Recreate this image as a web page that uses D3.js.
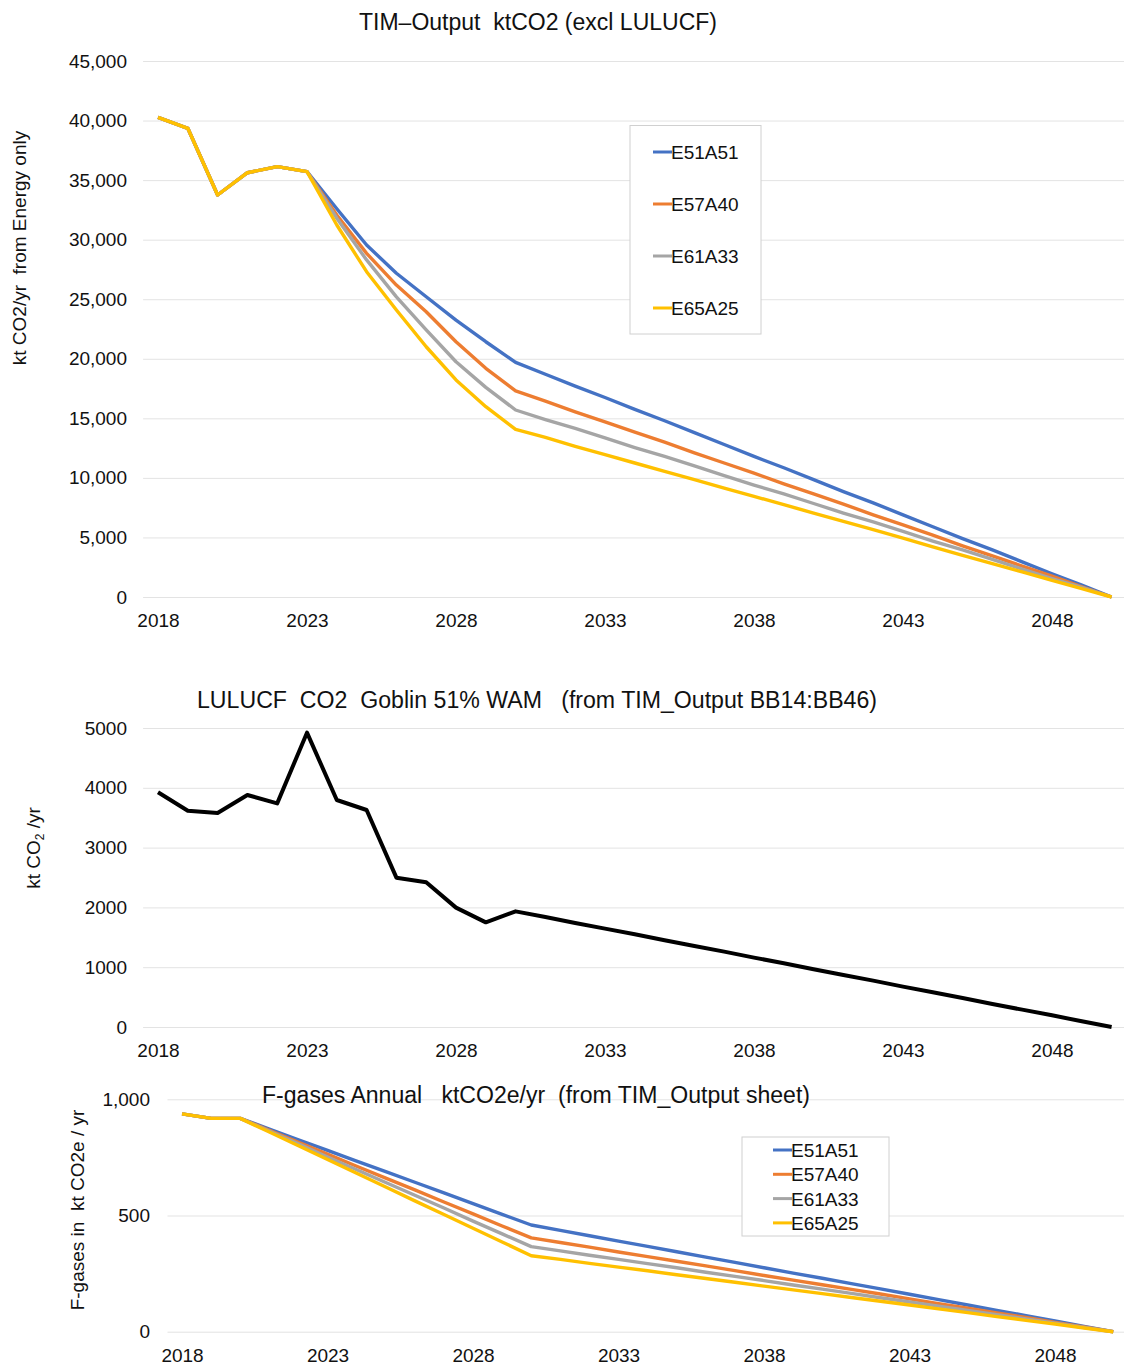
<!DOCTYPE html>
<html><head><meta charset="utf-8">
<script src="https://cdn.jsdelivr.net/npm/d3@7"></script>
<style>body{margin:0;background:#fff}svg{display:block}text{font-family:Helvetica,Arial,"Liberation Sans",sans-serif;fill:#111;white-space:pre}</style>
</head><body>
<script>
const years = d3.range(2018, 2051);
const tickYears = [2018, 2023, 2028, 2033, 2038, 2043, 2048];
const seriesNames = ["E51A51", "E57A40", "E61A33", "E65A25"];
const seriesColors = ["#4472C4", "#ED7D31", "#A5A5A5", "#FFC000"];

// Chart 1: TIM-Output ktCO2 (excl LULUCF)
const energyE51A51 = [40270,39350,33750,35620,36130,35710,32600,29550,27180,25210,23250,21430,19700,18700,17700,16750,15750,14800,13800,12800,11800,10850,9850,8850,7900,6900,5900,4900,3950,2950,1950,1000,0];
const energyE57A40 = [40270,39350,33750,35620,36130,35710,32070,28850,26190,23950,21430,19200,17300,16450,15550,14700,13850,13000,12100,11250,10400,9500,8650,7800,6900,6050,5200,4300,3450,2600,1750,850,0];
const energyE61A33 = [40270,39350,33750,35620,36130,35710,31800,28300,25200,22420,19750,17600,15700,14900,14150,13350,12550,11800,11000,10200,9400,8650,7850,7050,6300,5500,4700,3950,3150,2350,1550,800,0];
const energyE65A25 = [40270,39350,33750,35620,36130,35710,31230,27310,24100,21010,18220,15980,14080,13400,12650,11950,11250,10550,9850,9150,8450,7750,7050,6350,5650,4950,4200,3500,2800,2100,1400,700,0];
const energyTicks = [0,5000,10000,15000,20000,25000,30000,35000,40000,45000];

// Chart 2: LULUCF CO2
const lulucf = [3925,3617,3579,3880,3740,4922,3796,3629,2497,2420,1996,1750,1934,1840,1740,1645,1550,1450,1355,1260,1160,1065,965,870,775,675,580,485,385,290,195,95,0];
const lulucfTicks = [0,1000,2000,3000,4000,5000];

// Chart 3: F-gases
const fgasE51A51 = [937,918,918,872,826,780,734,689,643,597,551,505,459,436,413,390,367,344,321,298,275,252,230,207,184,161,138,115,92,69,46,23,0];
const fgasE57A40 = [937,918,918,867,815,764,712,661,610,558,507,455,404,384,364,343,323,303,283,263,242,222,202,182,162,141,121,101,81,61,40,20,0];
const fgasE61A33 = [937,918,918,863,808,752,697,642,587,532,476,421,366,348,329,311,293,275,256,238,220,201,183,165,146,128,110,92,73,55,37,18,0];
const fgasE65A25 = [937,918,918,859,800,741,682,623,563,504,445,386,327,311,294,278,262,245,229,213,196,180,164,147,131,115,98,82,65,49,33,16,0];
const fgasTicks = [0,500,1000];

const W = 1124, H = 1365;
const FONT = "Helvetica,Arial,'Liberation Sans',sans-serif";
const svg = d3.select("body").append("svg").attr("width", W).attr("height", H);

function panel(cfg) {
  const x = d3.scalePoint().domain(years).range([cfg.left, cfg.right]).padding(0.5);
  const y = d3.scaleLinear().domain([0, cfg.max]).range([cfg.bottom, cfg.top]);
  const g = svg.append("g");
  const ax = d3.axisLeft(y).tickValues(cfg.ticks).tickSize(-(cfg.right - cfg.left)).tickFormat(cfg.fmt);
  const ga = g.append("g").attr("transform", `translate(${cfg.left},0)`).call(ax);
  ga.select(".domain").remove();
  ga.selectAll(".tick line").attr("stroke", "#e3e3e3").attr("stroke-width", 1);
  ga.selectAll(".tick text").attr("font-size", 19).attr("fill", "#111").attr("x", cfg.labelX - cfg.left)
    .style("font-family", FONT);
  const xa = d3.axisBottom(x).tickValues(tickYears).tickSize(0).tickPadding(cfg.xPad);
  const gx = g.append("g").attr("transform", `translate(0,${cfg.bottom})`).call(xa);
  gx.select(".domain").remove();
  gx.selectAll(".tick text").attr("font-size", 19).attr("fill", "#111").style("font-family", FONT);
  const line = d3.line().x((d, i) => x(years[i])).y(d => y(d)).curve(d3.curveLinear);
  cfg.series.forEach((s, i) => {
    g.append("path").datum(s).attr("d", line).attr("fill", "none")
      .attr("stroke", cfg.colors[i]).attr("stroke-width", cfg.sw).attr("stroke-linejoin", "round");
  });
  return {x, y};
}

function title(txt, cx, y, len) {
  svg.append("text").attr("x", cx).attr("y", y).attr("text-anchor", "middle").attr("font-size", 23)
    .attr("textLength", len).attr("lengthAdjust", "spacingAndGlyphs").text(txt);
}

// Chart 1
panel({left:143.1, right:1126.5, top:61, bottom:597, max:45000, ticks:energyTicks, fmt:d3.format(","), labelX:127, xPad:16.3,
  series:[energyE51A51, energyE57A40, energyE61A33, energyE65A25], colors:seriesColors, sw:3.4});
title("TIM–Output  ktCO2 (excl LULUCF)", 538, 30, 358);
svg.append("text").attr("transform", "translate(26,248) rotate(-90)").attr("text-anchor", "middle").attr("font-size", 19).text("kt CO2/yr  from Energy only");
const lg1 = svg.append("g");
lg1.append("rect").attr("x", 630).attr("y", 125.5).attr("width", 131).attr("height", 208.5).attr("fill", "#fff").attr("stroke", "#d0d0d0");
seriesNames.forEach((n, i) => {
  const yy = 152 + i * 52;
  lg1.append("line").attr("x1", 653).attr("x2", 672).attr("y1", yy).attr("y2", yy).attr("stroke", seriesColors[i]).attr("stroke-width", 3);
  lg1.append("text").attr("x", 671).attr("y", yy + 7).attr("font-size", 19).text(n);
});

// Chart 2
panel({left:143.1, right:1126.5, top:728, bottom:1027, max:5000, ticks:lulucfTicks, fmt:d3.format("d"), labelX:127, xPad:16.3,
  series:[lulucf], colors:["#000"], sw:4});
title("LULUCF  CO2  Goblin 51% WAM   (from TIM_Output BB14:BB46)", 537, 708, 680);
const yl2 = svg.append("text").attr("transform", "translate(40,848) rotate(-90)").attr("text-anchor", "middle").attr("font-size", 19);
yl2.append("tspan").text("kt CO");
yl2.append("tspan").attr("font-size", 12).attr("dy", 4).text("2");
yl2.append("tspan").attr("dy", -4).text(" /yr");

// Chart 3
panel({left:167.5, right:1127.8, top:1099.3, bottom:1331.7, max:1000, ticks:fgasTicks, fmt:d3.format(","), labelX:150, xPad:16.6,
  series:[fgasE51A51, fgasE57A40, fgasE61A33, fgasE65A25], colors:seriesColors, sw:3.4});
title("F-gases Annual   ktCO2e/yr  (from TIM_Output sheet)", 536, 1103, 548);
svg.append("text").attr("transform", "translate(84,1210) rotate(-90)").attr("text-anchor", "middle").attr("font-size", 19)
  .text("F-gases in  kt CO2e / yr");
const lg3 = svg.append("g");
lg3.append("rect").attr("x", 742).attr("y", 1137).attr("width", 147).attr("height", 99).attr("fill", "#fff").attr("stroke", "#d0d0d0");
seriesNames.forEach((n, i) => {
  const yy = 1150 + i * 24.3;
  lg3.append("line").attr("x1", 773).attr("x2", 792).attr("y1", yy).attr("y2", yy).attr("stroke", seriesColors[i]).attr("stroke-width", 3);
  lg3.append("text").attr("x", 791).attr("y", yy + 7).attr("font-size", 19).text(n);
});
</script>
</body></html>
